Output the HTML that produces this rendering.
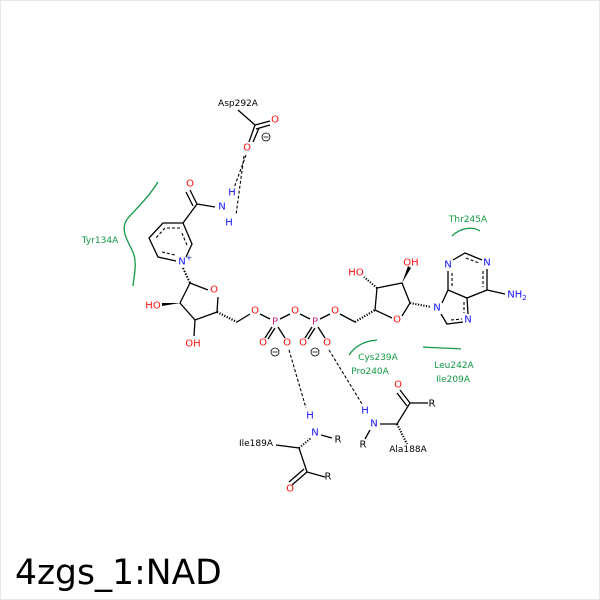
<!DOCTYPE html>
<html><head><meta charset="utf-8"><style>
html,body{margin:0;padding:0;background:#fff;}
svg{display:block;font-family:"DejaVu Sans","Liberation Sans",sans-serif;}
.b{stroke:#000;stroke-width:1.3;fill:none}
.d{stroke:#000;stroke-width:1.1;fill:none;stroke-dasharray:3,2}
.g{stroke:#119944;stroke-width:1.3;fill:none}
text{font-size:10px;text-anchor:middle;dominant-baseline:central}
.o{fill:#ff0d0d}.n{fill:#1010ff}.p{fill:#cc1f7a}.k{fill:#000}.gr{fill:#119944}
</style></head><body>
<svg width="600" height="600" viewBox="0 0 600 600">
<rect x="0.5" y="0.5" width="599" height="599" fill="#fff" stroke="#e6e6e6"/>
<!-- Asp292 -->
<path class="b" d="M238 110 L255 125 L270 121 M256 129 L270 125 M255 125 L249 142 M259 128 L253 142"/>
<text x="238" y="104" class="k" style="font-size:9px">Asp292A</text>
<text x="275" y="120" class="o">O</text>
<text x="247" y="148" class="o">O</text>
<circle cx="266" cy="137" r="4" fill="none" stroke="#000" stroke-width="0.8"/><path class="b" d="M263.5 137 h5" style="stroke-width:0.8"/>
<path class="d" d="M246 155 L234 188 M244 156 L236 215"/>
<!-- nicotinamide -->
<path class="b" d="M190 190 L197 204 M186 192 L193 206 M197 204 L215 207 M197 204 L183 223"/>
<text x="190" y="184" class="o">O</text>
<text x="222" y="207" class="n">N</text>
<text x="232" y="193" class="n">H</text>
<text x="229" y="223" class="n">H</text>
<path class="b" d="M183 223 L163 223 L149 238 L158 257 L176 261 M186 257 L192 244 L183 223"/>
<path class="d" d="M180 228 L165 228 L155 239 M162 252 L175 255 M187 245 L181 231"/>
<text x="182" y="262" class="n">N</text><text x="189" y="258" class="n" style="font-size:8px">+</text>
<path class="b" d="M183 268 L190 283" style="stroke-dasharray:1.5,1.5;stroke-width:2"/>
<!-- ribose1 -->
<path class="b" d="M190 283 L208 290 M218 297 L217 312 L195 320 L180 303 L190 283 M195 320 L194 336"/>
<text x="214" y="290" class="o">O</text>
<path d="M180 303 L162 306 L162 303 Z" fill="#000"/>
<text x="153" y="306" class="o">HO</text>
<text x="193" y="344" class="o">OH</text>
<path class="b" d="M217 312 L237 322" style="stroke-dasharray:1.2,1.5;stroke-width:2.2"/>
<path class="b" d="M237 322 L250 314 M260 314 L270 319 M280 319 L290 314 M300 314 L310 319 M320 319 L330 314 M340 314 L355 322"/>
<text x="255" y="311" class="o">O</text><text x="275" y="322" class="p">P</text>
<text x="295" y="311" class="o">O</text><text x="315" y="322" class="p">P</text>
<text x="335" y="311" class="o">O</text>
<path class="b" d="M272 327 L265 338 M275 328 L268 339 M278 327 L285 338 M312 327 L305 338 M315 328 L308 339 M318 327 L325 338"/>
<text x="263" y="343" class="o">O</text><text x="287" y="343" class="o">O</text>
<text x="303" y="343" class="o">O</text><text x="327" y="343" class="o">O</text>
<circle cx="275" cy="352" r="4" fill="none" stroke="#000" stroke-width="0.8"/><path d="M272.5 352 h5" stroke="#000" stroke-width="0.8"/>
<circle cx="315" cy="352" r="4" fill="none" stroke="#000" stroke-width="0.8"/><path d="M312.5 352 h5" stroke="#000" stroke-width="0.8"/>
<!-- ribose2 -->
<path class="b" d="M355 322 L375 310" style="stroke-dasharray:1.2,1.5;stroke-width:2.2"/>
<path class="b" d="M375 310 L392 318 M402 316 L410 303 L402 283 L377 288 L375 310"/>
<text x="397" y="320" class="o">O</text>
<path class="b" d="M377 288 L364 277" style="stroke-dasharray:1.2,1.5;stroke-width:2"/>
<text x="356" y="273" class="o">HO</text>
<path d="M402 283 L408 266 L411 268 Z" fill="#000"/>
<text x="411" y="263" class="o">OH</text>
<path class="b" d="M410 303 L431 307" style="stroke-dasharray:1.2,1.5;stroke-width:2"/>
<!-- adenine -->
<text x="437" y="308" class="n">N</text>
<path class="b" d="M441 314 L447 324 L463 322 M442 303 L448 290 L448 271 M453 260 L465 253 L482 260 M487 269 L487 290 L467 298 L448 290 M467 298 L468 314 M487 290 L505 294"/>
<path class="d" d="M451 320 L462 319 M452 273 L452 288 M466 258 L479 263 M483 271 L483 287 M464 302 L464 313"/>
<text x="448" y="265" class="n">N</text><text x="487" y="263" class="n">N</text>
<text x="468" y="320" class="n">N</text>
<text x="517" y="295" class="n">NH<tspan style="font-size:7px" dy="3">2</tspan></text>
<!-- hbonds -->
<path class="d" d="M289 350 L306 408 M329 350 L362 404"/>
<!-- Ile189 -->
<text x="310" y="416" class="n">H</text><text x="315" y="433" class="n">N</text><text x="338" y="440" class="k">R</text>
<path class="b" d="M321 435 L332 438 M276 445 L299 448 L307 472 L325 477 M307 472 L292 485 M304 469 L289 482"/>
<path class="b" d="M299 448 L311 438" style="stroke-dasharray:1.2,1.5;stroke-width:2"/>
<text x="256" y="444" class="k" style="font-size:9px">Ile189A</text>
<text x="290" y="489" class="o">O</text><text x="328" y="477" class="k">R</text>
<!-- Ala188 -->
<text x="365" y="411" class="n">H</text><text x="374" y="424" class="n">N</text><text x="363" y="445" class="k">R</text>
<path class="b" d="M380 424 L397 424 L410 403 L428 403 M410 403 L400 390 M407 406 L397 393 M370 430 L365 439"/>
<path class="b" d="M397 424 L407 444" style="stroke-dasharray:1.2,1.5;stroke-width:2.2"/>
<text x="398" y="385" class="o">O</text><text x="432" y="404" class="k">R</text>
<text x="408" y="450" class="k" style="font-size:9px">Ala188A</text>
<!-- hydrophobic -->
<path class="g" d="M158 182 C150 195 140 205 128 218 C120 228 126 238 132 250 C138 262 134 275 133 286"/>
<text x="100" y="241" class="gr" style="font-size:9px">Tyr134A</text>
<path class="g" d="M452 236 C460 228 472 226 480 231"/>
<text x="468" y="220" class="gr" style="font-size:9px">Thr245A</text>
<path class="g" d="M349 355 C355 346 365 341 377 340"/>
<text x="378" y="358" class="gr" style="font-size:9px">Cys239A</text>
<text x="370" y="372" class="gr" style="font-size:9px">Pro240A</text>
<path class="g" d="M423 347 C435 348 448 348 461 349"/>
<text x="454" y="366" class="gr" style="font-size:9px">Leu242A</text>
<text x="453" y="380" class="gr" style="font-size:9px">Ile209A</text>
<text x="15" y="573" style="font-size:34.5px;text-anchor:start" class="k">4zgs_1:NAD</text>
</svg>
</body></html>
